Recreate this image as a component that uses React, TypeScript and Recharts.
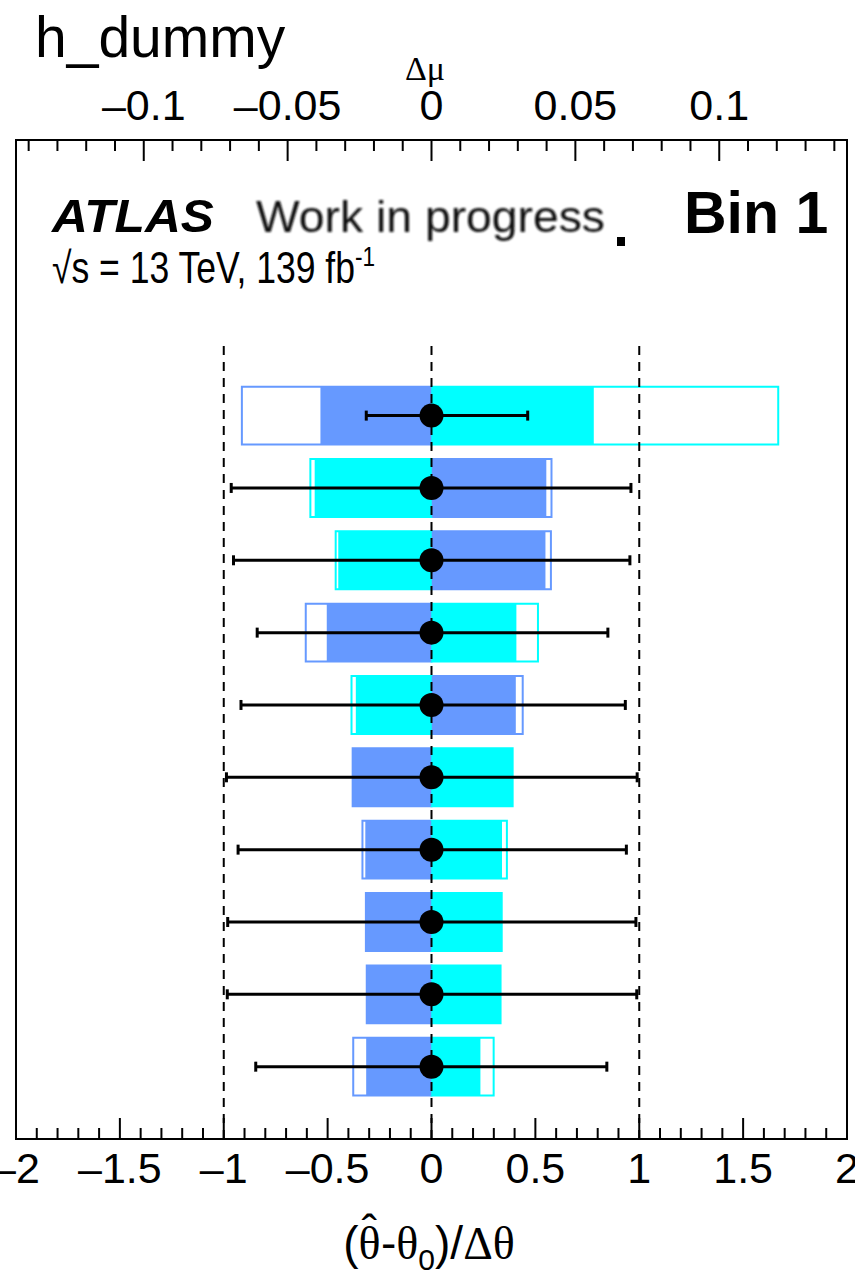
import {
  ComposedChart, XAxis, YAxis, ReferenceArea, ReferenceLine, Scatter, ErrorBar,
} from 'recharts'

// one entry per nuisance parameter, top row first
const ROW_POS = [10, 9, 8, 7, 6, 5, 4, 3, 2, 1]

// impact on mu (top axis units)
const POSTFIT_UP = [-0.0386, 0.0399, 0.0396, -0.0364, 0.0293, -0.0274, -0.0230, -0.0228, -0.0225, -0.0227]
const POSTFIT_DOWN = [0.0564, -0.0406, -0.0324, 0.0295, -0.0263, 0.0282, 0.0245, 0.0244, 0.0240, 0.0170]
const PREFIT_UP = [-0.0659, 0.0417, 0.0415, -0.0437, 0.0317, -0.0274, -0.0240, -0.0228, -0.0225, -0.0272]
const PREFIT_DOWN = [0.1205, -0.0421, -0.0333, 0.0370, -0.0278, 0.0282, 0.0262, 0.0244, 0.0240, 0.0216]

// pulls (bottom axis units)
const PULL = [0, 0, 0, 0, 0, 0, 0, 0, 0, 0]
const PULL_ERR_LO = [0.314, 0.964, 0.953, 0.839, 0.917, 0.987, 0.931, 0.981, 0.983, 0.846]
const PULL_ERR_HI = [0.463, 0.960, 0.955, 0.849, 0.933, 0.990, 0.938, 0.984, 0.988, 0.844]

const PULL_LABELS = [-2, -1.5, -1, -0.5, 0, 0.5, 1, 1.5, 2]
const IMPACT_LABELS = [-0.1, -0.05, 0, 0.05, 0.1]
const GUIDE_LINES = [-1, 0, 1]

const BLUE = '#6699ff'
const CYAN = '#00ffff'
const SANS = '"Liberation Sans", Arial, Helvetica, sans-serif'
const SERIF = '"Liberation Serif", "Times New Roman", serif'

const IMPACT_MAX = 0.1444
const Y_MAX = 13.81
const HALF_BOX = 0.4

// minor ticks every 0.1 (bottom) and 0.01 (top)
const pullTicks = Array.from({ length: 41 }, (_, i) => Math.round((-2 + i * 0.1) * 10) / 10)
const impactTicks = Array.from({ length: 29 }, (_, i) => Math.round((-0.14 + i * 0.01) * 100) / 100)

const isMajor = (v: number, majors: number[]) => majors.some(m => Math.abs(m - v) < 1e-6)
const fmt = (v: number) => (v < 0 ? '\u2013' + String(-v) : String(v))

function PullTick(props: any) {
  const { x, y, payload } = props
  const major = isMajor(payload.value, PULL_LABELS)
  return (
    <g>
      <line x1={x} x2={x} y1={y} y2={y - (major ? 21 : 11)} stroke="#000" strokeWidth={2} />
      {major && (
        <text x={x} y={y + 44} textAnchor="middle" fontSize={43} fontFamily={SANS} fill="#000">
          {fmt(payload.value)}
        </text>
      )}
    </g>
  )
}

function ImpactTick(props: any) {
  const { x, y, payload } = props
  const major = isMajor(payload.value, IMPACT_LABELS)
  return (
    <g>
      <line x1={x} x2={x} y1={y} y2={y + (major ? 21 : 11)} stroke="#000" strokeWidth={2} />
      {major && (
        <text x={x} y={y - 20} textAnchor="middle" fontSize={43} fontFamily={SANS} fill="#000">
          {fmt(payload.value)}
        </text>
      )}
    </g>
  )
}

function Dot(props: any) {
  return <circle cx={props.cx} cy={props.cy} r={12} fill="#000" />
}

export default function App() {
  const points = ROW_POS.map((row, i) => ({
    row,
    pull: PULL[i],
    impact: 0,
    err: [PULL_ERR_LO[i], PULL_ERR_HI[i]],
  }))

  const box = (key: string, row: number, v: number, fill: string, stroke: string) => (
    <ReferenceArea
      key={key}
      xAxisId="impact"
      yAxisId="row"
      x1={0}
      x2={v}
      y1={row - HALF_BOX}
      y2={row + HALF_BOX}
      fill={fill}
      fillOpacity={1}
      stroke={stroke}
      strokeWidth={stroke === 'none' ? 0 : 2}
    />
  )

  return (
    <div style={{ position: 'absolute', left: 0, top: 0, width: 855, height: 1276, background: '#fff' }}>
      <ComposedChart width={855} height={1276} data={points} margin={{ top: 0, right: 8, bottom: 0, left: 16 }}>
        <XAxis
          xAxisId="impact"
          dataKey="impact"
          orientation="top"
          type="number"
          domain={[-IMPACT_MAX, IMPACT_MAX]}
          allowDataOverflow
          ticks={impactTicks}
          interval={0}
          tickSize={0}
          tickMargin={0}
          tickLine={false}
          tick={ImpactTick}
          axisLine={{ stroke: '#000', strokeWidth: 2 }}
          height={140}
        />
        <XAxis
          xAxisId="pull"
          dataKey="pull"
          orientation="bottom"
          type="number"
          domain={[-2, 2]}
          allowDataOverflow
          ticks={pullTicks}
          interval={0}
          tickSize={0}
          tickMargin={0}
          tickLine={false}
          tick={PullTick}
          axisLine={{ stroke: '#000', strokeWidth: 2 }}
          height={137}
        />
        <YAxis
          yAxisId="row"
          dataKey="row"
          type="number"
          domain={[0, Y_MAX]}
          allowDataOverflow
          hide
        />

        {/* frame */}
        <ReferenceArea
          xAxisId="pull"
          yAxisId="row"
          x1={-2}
          x2={2}
          y1={0}
          y2={Y_MAX}
          fill="none"
          stroke="#000"
          strokeWidth={2}
          ifOverflow="visible"
        />

        {/* pre-fit impacts: open boxes */}
        {ROW_POS.map((row, i) => box(`pu${i}`, row, PREFIT_UP[i], '#fff', BLUE))}
        {ROW_POS.map((row, i) => box(`pd${i}`, row, PREFIT_DOWN[i], '#fff', CYAN))}
        {/* post-fit impacts: filled boxes */}
        {ROW_POS.map((row, i) => box(`fu${i}`, row, POSTFIT_UP[i], BLUE, 'none'))}
        {ROW_POS.map((row, i) => box(`fd${i}`, row, POSTFIT_DOWN[i], CYAN, 'none'))}

        {GUIDE_LINES.map(x => (
          <ReferenceLine
            key={`g${x}`}
            xAxisId="pull"
            yAxisId="row"
            segment={[{ x, y: 0 }, { x, y: 11 }]}
            stroke="#000"
            strokeWidth={2}
            strokeDasharray="9 7"
          />
        ))}

        <Scatter xAxisId="pull" yAxisId="row" dataKey="row" shape={Dot} isAnimationActive={false}>
          <ErrorBar dataKey="err" direction="x" width={5} strokeWidth={3} stroke="#000" isAnimationActive={false} />
        </Scatter>
      </ComposedChart>

      <svg width={855} height={1276} style={{ position: 'absolute', left: 0, top: 0, pointerEvents: 'none' }}>
        <defs>
          <filter id="soft">
            <feGaussianBlur stdDeviation="0.9" />
          </filter>
        </defs>
        <text x={35} y={57} fontSize={57} fontFamily={SANS} fill="#000">h_dummy</text>
        <text x={425} y={80} textAnchor="middle" fontSize={34} fontFamily={SERIF} fill="#000">Δμ</text>

        <text x={52} y={232} fontSize={47} fontFamily={SANS} fontWeight="bold" fontStyle="italic" fill="#000"
          textLength={162} lengthAdjust="spacingAndGlyphs">ATLAS</text>
        <text x={256} y={232} fontSize={45} fontFamily={SANS} fill="#111" filter="url(#soft)"
          textLength={349} lengthAdjust="spacingAndGlyphs">Work in progress</text>
        <rect x={617} y={237} width={8} height={9} fill="#000" />
        <text x={684} y={233} fontSize={59} fontFamily={SANS} fontWeight="bold" fill="#000">Bin 1</text>

        <text x={52} y={283} fontSize={44} fontFamily={SANS} fill="#000" textLength={323} lengthAdjust="spacingAndGlyphs">
          √s = 13 TeV, 139 fb<tspan dy={-17} fontSize={28}>-1</tspan>
        </text>

        <text x={429} y={1259} textAnchor="middle" fontSize={46} fontFamily={SANS} fill="#000">
          (<tspan fontFamily={SERIF}>θ</tspan>
          <tspan fontFamily={SANS} dx={-19} dy={-12}>ˆ</tspan>
          <tspan dx={4} dy={12}>-</tspan>
          <tspan fontFamily={SERIF}>θ</tspan>
          <tspan dy={11} fontSize={30}>0</tspan>
          <tspan dy={-11}>)/</tspan>
          <tspan fontFamily={SERIF}>Δθ</tspan>
        </text>
      </svg>
    </div>
  )
}
